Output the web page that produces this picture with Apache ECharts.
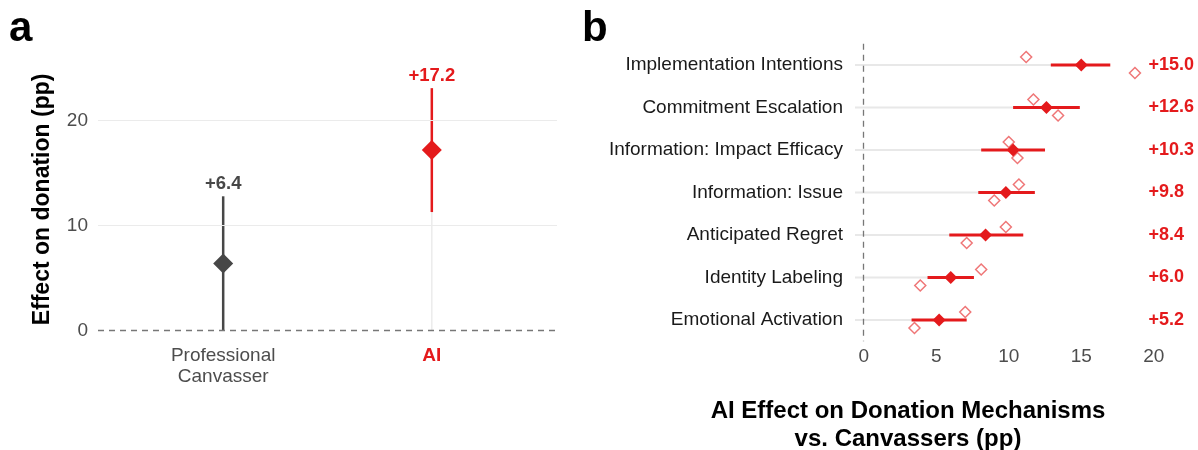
<!DOCTYPE html>
<html>
<head>
<meta charset="utf-8">
<script src="https://cdn.jsdelivr.net/npm/echarts@6/dist/echarts.min.js"></script>
<style>
  html, body { margin: 0; padding: 0; background: #fff; }
  #chart { width: 1198px; height: 450px; }
</style>
</head>
<body>
<div id="chart"></div>
<script>
// panel a: overall effect
const groupNames = ['Professional Canvasser', 'AI'];
const groupEst = [6.4, 17.2];
const groupLow = [0.0, 11.3];
const groupHigh = [12.8, 23.1];
const groupTicks = [0, 10, 20];

// panel b: mechanisms
const mechanisms = ['Implementation Intentions', 'Commitment Escalation', 'Information: Impact Efficacy',
    'Information: Issue', 'Anticipated Regret', 'Identity Labeling', 'Emotional Activation'];
const mechEst = [15.0, 12.6, 10.3, 9.8, 8.4, 6.0, 5.2];
const mechLow = [12.9, 10.3, 8.1, 7.9, 5.9, 4.4, 3.3];
const mechHigh = [17.0, 14.9, 12.5, 11.8, 11.0, 7.6, 7.1];
const studyOne = [11.2, 11.7, 10.0, 10.7, 9.8, 8.1, 7.0];
const studyTwo = [18.7, 13.4, 10.6, 9.0, 7.1, 3.9, 3.5];
const mechTicks = [0, 5, 10, 15, 20];

const RED = '#e41a1c';
const GREY = '#474747';
const FONT = 'Liberation Sans, Arial, sans-serif';
const groupColors = [GREY, RED];

const chart = echarts.init(document.getElementById('chart'));

const fmt = v => '+' + v.toFixed(1);

chart.setOption({
    animation: false,
    textStyle: { fontFamily: FONT },
    graphic: [
        { type: 'text', x: 9, y: 29, style: { text: 'a', font: 'bold 42px ' + FONT, fill: '#000', verticalAlign: 'middle' } },
        { type: 'text', x: 582, y: 29, style: { text: 'b', font: 'bold 42px ' + FONT, fill: '#000', verticalAlign: 'middle' } },
        {
            type: 'text', x: 908, y: 425,
            style: {
                text: 'AI Effect on Donation Mechanisms\nvs. Canvassers (pp)',
                font: 'bold 24px ' + FONT, fill: '#000', align: 'center', verticalAlign: 'middle', lineHeight: 28
            }
        }
    ],
    grid: [
        { left: 98, top: 68.2, width: 459, height: 262.5 },
        { left: 855, top: 43.75, width: 307.5, height: 297.5 }
    ],
    xAxis: [
        {
            gridIndex: 0, type: 'value', min: 0.4, max: 2.6,
            axisLine: { show: false }, axisTick: { show: false }, splitLine: { show: false },
            axisLabel: {
                customValues: [1, 2],
                margin: 15,
                formatter: function (v) {
                    const i = Math.round(v) - 1;
                    if (i === 1) return '{ai|' + groupNames[i] + '}';
                    return groupNames[i].split(' ').map(w => '{p|' + w + '}').join('\n');
                },
                rich: {
                    p: { color: '#4d4d4d', fontSize: 19, lineHeight: 21, fontFamily: FONT },
                    ai: { color: RED, fontSize: 19, lineHeight: 21, fontWeight: 'bold', fontFamily: FONT }
                }
            }
        },
        {
            gridIndex: 1, type: 'value', min: -0.6, max: 20.6,
            axisLine: { show: false }, axisTick: { show: false }, splitLine: { show: false },
            axisLabel: { customValues: mechTicks, margin: 6, color: '#4d4d4d', fontSize: 19 }
        }
    ],
    yAxis: [
        {
            gridIndex: 0, type: 'value', min: 0, max: 25,
            axisLine: { show: false }, axisTick: { show: false }, splitLine: { show: false },
            axisLabel: { customValues: groupTicks, margin: 10, color: '#4d4d4d', fontSize: 19 },
            name: 'Effect on donation (pp)', nameLocation: 'middle', nameRotate: 90, nameGap: 44,
            nameTextStyle: { fontSize: 23, fontWeight: 'bold', color: '#000' }
        },
        {
            gridIndex: 1, type: 'category', data: mechanisms, inverse: true,
            axisLine: { show: false }, axisTick: { show: false }, splitLine: { show: false },
            axisLabel: { margin: 12, color: '#1a1a1a', fontSize: 19 }
        },
        {
            gridIndex: 1, type: 'category', data: mechEst.map(fmt), inverse: true, position: 'right',
            axisLine: { show: false }, axisTick: { show: false }, splitLine: { show: false },
            axisLabel: { margin: -14, align: 'left', color: RED, fontSize: 18, fontWeight: 'bold' }
        }
    ],
    series: [
        // gridlines for panel a
        {
            type: 'line', xAxisIndex: 0, yAxisIndex: 0, data: [], z: 1,
            markLine: {
                silent: true, symbol: 'none', label: { show: false },
                data: groupTicks.filter(t => t > 0).map(t => ({ yAxis: t, lineStyle: { color: '#ebebeb', width: 1.2, type: 'solid' } }))
                    .concat([{ yAxis: 0, lineStyle: { color: '#777', width: 1.3, type: [6, 5] } }])
            }
        },
        {
            type: 'custom', xAxisIndex: 0, yAxisIndex: 0, z: 2,
            data: groupEst.map((e, i) => [i + 1, groupLow[i], groupHigh[i], e]),
            renderItem: function (params, api) {
                const i = params.dataIndex;
                const x = api.value(0);
                const est = api.value(3);
                const base = api.coord([x, 0]);
                const pEst = api.coord([x, est]);
                const pLo = api.coord([x, api.value(1)]);
                const pHi = api.coord([x, api.value(2)]);
                return {
                    type: 'group', children: [
                        { type: 'line', shape: { x1: base[0], y1: base[1], x2: pEst[0], y2: pEst[1] }, style: { stroke: '#ebebeb', lineWidth: 1.5 } },
                        { type: 'line', shape: { x1: pLo[0], y1: pLo[1], x2: pHi[0], y2: pHi[1] }, style: { stroke: groupColors[i], lineWidth: 2.5 } },
                        {
                            type: 'text', x: pHi[0], y: pHi[1] - 12.5,
                            style: { text: fmt(est), fill: groupColors[i], font: 'bold 18.5px ' + FONT, align: 'center', verticalAlign: 'middle' }
                        }
                    ]
                };
            }
        },
        {
            type: 'scatter', xAxisIndex: 0, yAxisIndex: 0, z: 3, symbol: 'diamond', symbolSize: 20,
            data: groupEst.map((e, i) => ({ value: [i + 1, e], itemStyle: { color: groupColors[i], opacity: 1 } }))
        },
        // panel b
        {
            type: 'line', xAxisIndex: 1, yAxisIndex: 1, data: [], z: 1,
            markLine: {
                silent: true, symbol: 'none', label: { show: false },
                data: [{ xAxis: 0, lineStyle: { color: '#777', width: 1.3, type: [6, 5] } }]
            }
        },
        {
            type: 'custom', xAxisIndex: 1, yAxisIndex: 1, z: 2,
            data: mechEst.map((e, i) => [mechLow[i], mechHigh[i], i, e]),
            renderItem: function (params, api) {
                const idx = api.value(2);
                const pLo = api.coord([api.value(0), idx]);
                const pHi = api.coord([api.value(1), idx]);
                const pEst = api.coord([api.value(3), idx]);
                const left = params.coordSys.x;
                return {
                    type: 'group', children: [
                        { type: 'line', shape: { x1: left, y1: pEst[1], x2: pEst[0], y2: pEst[1] }, style: { stroke: '#e8e8e8', lineWidth: 2 } },
                        { type: 'line', shape: { x1: pLo[0], y1: pLo[1], x2: pHi[0], y2: pHi[1] }, style: { stroke: RED, lineWidth: 2.8 } }
                    ]
                };
            }
        },
        {
            type: 'scatter', xAxisIndex: 1, yAxisIndex: 1, z: 3, symbol: 'diamond', symbolSize: 11,
            symbolOffset: [0, -8],
            itemStyle: { color: '#fff', borderColor: 'rgba(228,26,28,0.6)', borderWidth: 1.5, opacity: 1 },
            data: studyOne.map((v, i) => [v, i])
        },
        {
            type: 'scatter', xAxisIndex: 1, yAxisIndex: 1, z: 3, symbol: 'diamond', symbolSize: 11,
            symbolOffset: [0, 8],
            itemStyle: { color: '#fff', borderColor: 'rgba(228,26,28,0.6)', borderWidth: 1.5, opacity: 1 },
            data: studyTwo.map((v, i) => [v, i])
        },
        {
            type: 'scatter', xAxisIndex: 1, yAxisIndex: 1, z: 4, symbol: 'diamond', symbolSize: 13,
            itemStyle: { color: RED, opacity: 1 },
            data: mechEst.map((v, i) => [v, i])
        }
    ]
});
</script>
</body>
</html>
